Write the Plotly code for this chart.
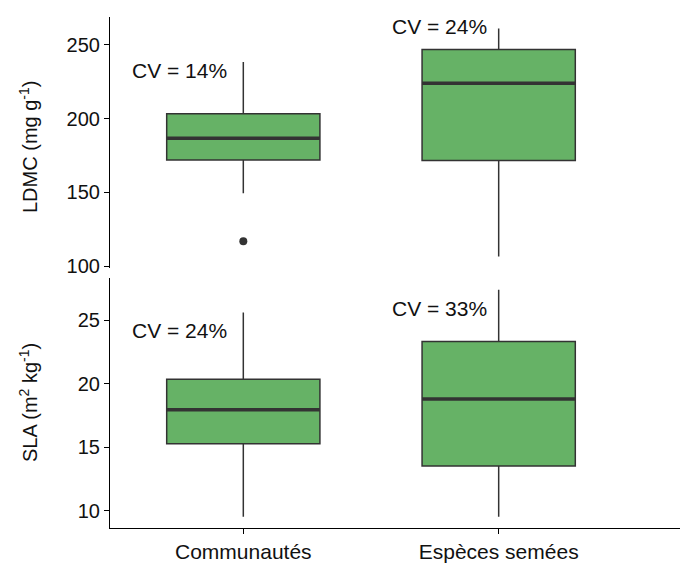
import plotly.graph_objects as go

categories = ["Communautés", "Espèces semées"]
cat_pos = [1, 2]

# LDMC (mg g-1)
ldmc_lower = [149.5, 106.8]
ldmc_q1 = [172.0, 171.6]
ldmc_median = [186.6, 223.9]
ldmc_q3 = [203.2, 246.6]
ldmc_upper = [238.2, 260.9]
ldmc_outliers_x = [1]
ldmc_outliers_y = [117.0]
ldmc_cv = ["CV = 14%", "CV = 24%"]
ldmc_cv_y = [232.3, 262.3]

# SLA (m2 kg-1)
sla_lower = [9.55, 9.55]
sla_q1 = [15.27, 13.53]
sla_median = [17.95, 18.79]
sla_q3 = [20.34, 23.31]
sla_upper = [25.58, 27.37]
sla_cv = ["CV = 24%", "CV = 33%"]
sla_cv_y = [24.19, 25.9]

cv_x = [0.752, 1.77]

FILL = "#66b266"
EDGE = "#333333"
TXT = "#111111"
FONT = "Liberation Sans, Arial, sans-serif"
BOXW = 0.6

fig = go.Figure()

def add_box(lower, q1, med, q3, upper, yaxis, xaxis):
    fig.add_trace(go.Box(
        x=cat_pos, lowerfence=lower, q1=q1, median=med, q3=q3, upperfence=upper,
        width=BOXW, fillcolor=FILL, line=dict(color=EDGE, width=1.5),
        whiskerwidth=0, boxpoints=False, showlegend=False,
        xaxis=xaxis, yaxis=yaxis, hoverinfo="skip"))
    for xp, m in zip(cat_pos, med):
        fig.add_shape(type="line", x0=xp - BOXW / 2, x1=xp + BOXW / 2, y0=m, y1=m,
                      xref=xaxis, yref=yaxis, line=dict(color=EDGE, width=3.5))

add_box(ldmc_lower, ldmc_q1, ldmc_median, ldmc_q3, ldmc_upper, "y", "x")
add_box(sla_lower, sla_q1, sla_median, sla_q3, sla_upper, "y2", "x2")

fig.add_trace(go.Scatter(x=ldmc_outliers_x, y=ldmc_outliers_y, mode="markers",
                         marker=dict(color=EDGE, size=8), showlegend=False,
                         xaxis="x", yaxis="y", hoverinfo="skip"))

for xp, t, yv in zip(cv_x, ldmc_cv, ldmc_cv_y):
    fig.add_annotation(x=xp, y=yv, text=t, xref="x", yref="y", showarrow=False,
                       font=dict(family=FONT, size=21, color=TXT))
for xp, t, yv in zip(cv_x, sla_cv, sla_cv_y):
    fig.add_annotation(x=xp, y=yv, text=t, xref="x2", yref="y2", showarrow=False,
                       font=dict(family=FONT, size=21, color=TXT))

W, H = 680, 570
xdom = [110 / W, 1.0]
top_dom = [1 - 267.5 / H, 1 - 17 / H]
bot_dom = [1 - 527.7 / H, 1 - 278 / H]
xr = [0.478, 2.71]

tickfont = dict(family=FONT, size=20, color=TXT)

fig.update_layout(
    width=W, height=H, margin=dict(l=0, r=0, t=0, b=0, pad=0, autoexpand=False),
    paper_bgcolor="white", plot_bgcolor="white",
    font=dict(family=FONT),
    xaxis=dict(domain=xdom, range=xr, anchor="y", showticklabels=False, ticks="",
               showline=False, showgrid=False, zeroline=False, automargin=False),
    yaxis=dict(domain=top_dom, range=[99.3, 268.6], anchor="x",
               tickvals=[100, 150, 200, 250], showline=True, linecolor="black",
               linewidth=1.2, ticks="outside", ticklen=5, tickcolor="black",
               showgrid=False, zeroline=False, tickfont=tickfont, automargin=False),
    xaxis2=dict(domain=xdom, range=xr, anchor="y2", tickvals=cat_pos, ticktext=categories,
                showline=True, linecolor="black", linewidth=1.2, ticks="outside",
                ticklen=5, tickcolor="black", showgrid=False, zeroline=False,
                tickfont=dict(family=FONT, size=21, color=TXT), automargin=False),
    yaxis2=dict(domain=bot_dom, range=[8.68, 28.3], anchor="x2",
                tickvals=[10, 15, 20, 25], showline=True, linecolor="black",
                linewidth=1.2, ticks="outside", ticklen=5, tickcolor="black",
                showgrid=False, zeroline=False, tickfont=tickfont, automargin=False),
)

fig.add_annotation(x=28 / W, y=1 - 147 / H, xref="paper", yref="paper", textangle=-90,
                   xanchor="center", yanchor="middle",
                   text="LDMC (mg g<sup>-1</sup>)", showarrow=False,
                   font=dict(family=FONT, size=20, color=TXT))
fig.add_annotation(x=28 / W, y=1 - 403 / H, xref="paper", yref="paper", textangle=-90,
                   xanchor="center", yanchor="middle",
                   text="SLA (m<sup>2</sup> kg<sup>-1</sup>)", showarrow=False,
                   font=dict(family=FONT, size=20, color=TXT))

fig.write_html("out.html", config={"displayModeBar": False},
               post_script="document.body.style.margin='0';document.body.style.padding='0';")
